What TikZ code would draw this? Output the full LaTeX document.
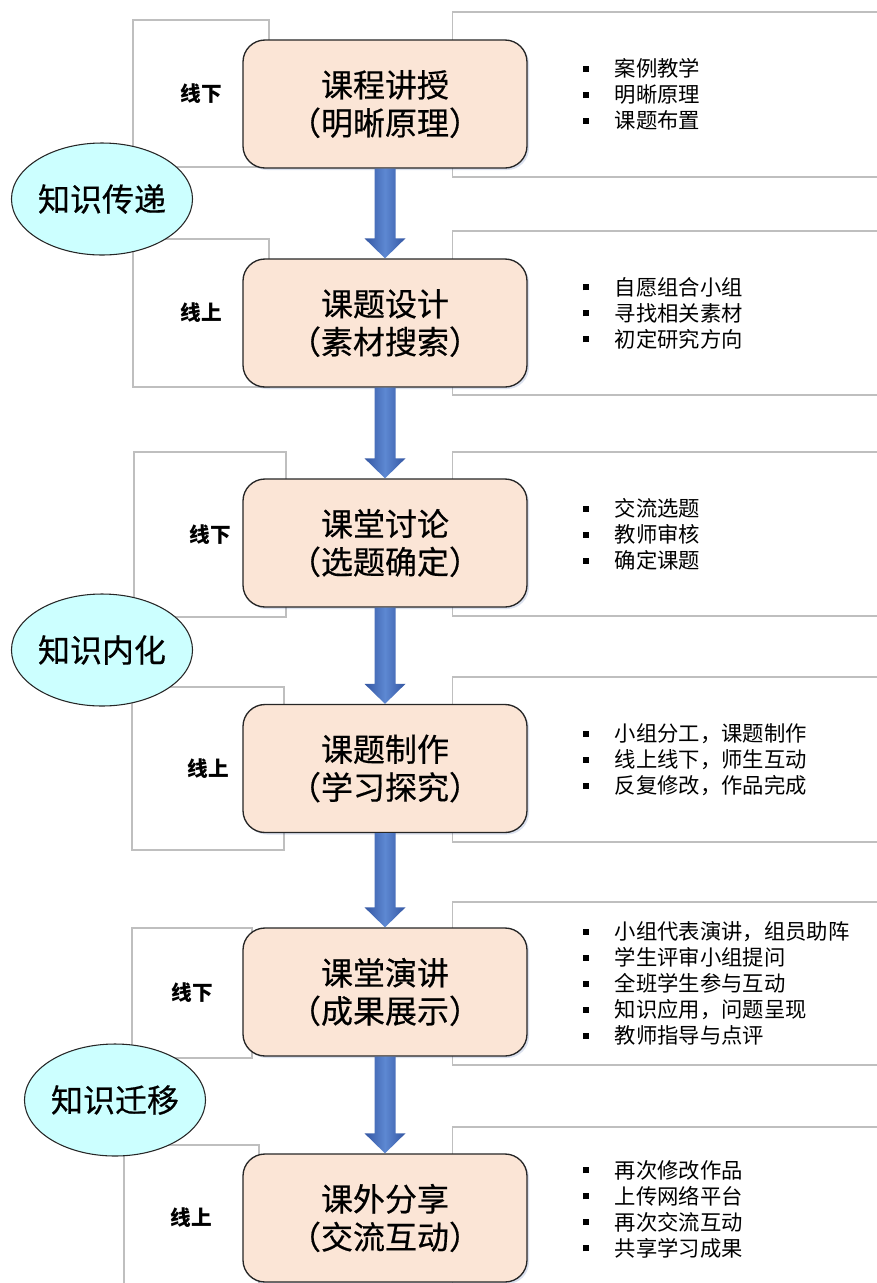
\documentclass[tikz,border=0pt]{standalone}
\usepackage{fontspec}
\setmainfont{Noto Sans CJK SC}
\newfontfamily\titlefont[FakeBold=0.5]{Noto Sans CJK SC}
\usetikzlibrary{shapes.geometric, positioning, calc, shadows}

\definecolor{boxfill}{HTML}{FBE5D6}
\definecolor{ovalfill}{HTML}{CCFFFF}
\definecolor{framegray}{HTML}{BFBFBF}
\definecolor{arrowdark}{HTML}{3456A2}
\definecolor{arrowlight}{HTML}{5D88D2}

\newlength\pxu \setlength\pxu{0.75pt}
\newcommand\bitem[1]{\makebox[24pt][l]{\rule[3.5pt]{4.5pt}{4.5pt}}#1}
% fat shaded arrow from the bottom of one stage to the top of the next
\newcommand\flowarrow[2]{%
  \shade[left color=arrowdark, right color=arrowdark, middle color=arrowlight]
    ($(#1.south)+(-10.5,0)$) -- ($(#2.north)+(-10.5,-20)$) -- ($(#2.north)+(-20.5,-20)$)
    -- (#2.north) -- ($(#2.north)+(20.5,-20)$) -- ($(#2.north)+(10.5,-20)$)
    -- ($(#1.south)+(10.5,0)$) -- cycle;}

\tikzset{
  stage/.style={draw=black!85, line width=1pt, fill=boxfill, rounded corners=22\pxu,
    minimum width=284\pxu, minimum height=128\pxu, align=center,
    font=\titlefont\fontsize{24pt}{28.5pt}\selectfont,
    drop shadow={shadow xshift=1.5pt, shadow yshift=-1.5pt, opacity=0.18, fill=arrowdark}},
  side/.style={draw=framegray, line width=0.8pt, fill=white, inner sep=0pt},
  mode/.style={side, font=\fontsize{15.5pt}{18pt}\selectfont\bfseries},
  oval/.style={ellipse, draw=black!85, line width=0.8pt, fill=ovalfill,
    minimum width=181\pxu, minimum height=112\pxu, inner sep=0pt,
    font=\titlefont\fontsize{24pt}{28pt}\selectfont},
  steps/.style={align=left, inner sep=0pt, font=\fontsize{16pt}{19.5pt}\selectfont}
}

\begin{document}
\begin{tikzpicture}[x=0.75pt,y=0.75pt,yscale=-1,xscale=1]
        \clip (0,0) rectangle (877,1283);

        %Right frames with their lists
        \node[side, anchor=west, minimum width=440\pxu, minimum height=165\pxu] (r1) at (452,94.5) {};
        \node[steps, right=98pt of r1.west] (s1) {\bitem{案例教学}\\\bitem{明晰原理}\\\bitem{课题布置}};
        \node[side, anchor=west, minimum width=440\pxu, minimum height=164\pxu] (r2) at (452,313) {};
        \node[steps, right=98pt of r2.west] (s2) {\bitem{自愿组合小组}\\\bitem{寻找相关素材}\\\bitem{初定研究方向}};
        \node[side, anchor=west, minimum width=440\pxu, minimum height=164\pxu] (r3) at (452,534) {};
        \node[steps, right=98pt of r3.west] (s3) {\bitem{交流选题}\\\bitem{教师审核}\\\bitem{确定课题}};
        \node[side, anchor=west, minimum width=440\pxu, minimum height=165\pxu] (r4) at (452,759.5) {};
        \node[steps, right=98pt of r4.west] (s4) {\bitem{小组分工，课题制作}\\\bitem{线上线下，师生互动}\\\bitem{反复修改，作品完成}};
        \node[side, anchor=west, minimum width=440\pxu, minimum height=163\pxu] (r5) at (452,983.5) {};
        \node[steps, right=98pt of r5.west] (s5) {\bitem{小组代表演讲，组员助阵}\\\bitem{学生评审小组提问}\\\bitem{全班学生参与互动}\\\bitem{知识应用，问题呈现}\\\bitem{教师指导与点评}};
        \node[side, anchor=west, minimum width=440\pxu, minimum height=164\pxu] (r6) at (452,1209) {};
        \node[steps, right=98pt of r6.west] (s6) {\bitem{再次修改作品}\\\bitem{上传网络平台}\\\bitem{再次交流互动}\\\bitem{共享学习成果}};

        %Left frames: offline / online
        \node[mode, minimum width=136\pxu, minimum height=147\pxu] (m1) at (201,93.5) {线下};
        \node[mode, minimum width=136\pxu, minimum height=148\pxu] (m2) at (201,313) {线上};
        \node[mode, minimum width=152\pxu, minimum height=165\pxu] (m3) at (210,534.5) {线下};
        \node[mode, minimum width=152\pxu, minimum height=163\pxu] (m4) at (208,768.5) {线上};
        \node[mode, minimum width=120\pxu, minimum height=130\pxu] (m5) at (192,993) {线下};
        \node[mode, minimum width=135\pxu, minimum height=146\pxu] (m6) at (191.5,1218) {线上};

        %Knowledge phases
        \node[oval] (k1) at (102,199) {知识传递};
        \node[oval] (k2) at (102,650) {知识内化};
        \node[oval] (k3) at (115,1100) {知识迁移};

        %Stages
        \node[stage] (t1) at (385,104) {课程讲授\\（明晰原理）};
        \node[stage] (t2) at (385,323) {课题设计\\（素材搜索）};
        \node[stage] (t3) at (385,543) {课堂讨论\\（选题确定）};
        \node[stage] (t4) at (385,768.5) {课题制作\\（学习探究）};
        \node[stage] (t5) at (385,992) {课堂演讲\\（成果展示）};
        \node[stage] (t6) at (385,1218) {课外分享\\（交流互动）};

        %Arrows between stages
        \flowarrow{t1}{t2}
        \flowarrow{t2}{t3}
        \flowarrow{t3}{t4}
        \flowarrow{t4}{t5}
        \flowarrow{t5}{t6}

    \end{tikzpicture}
\end{document}
